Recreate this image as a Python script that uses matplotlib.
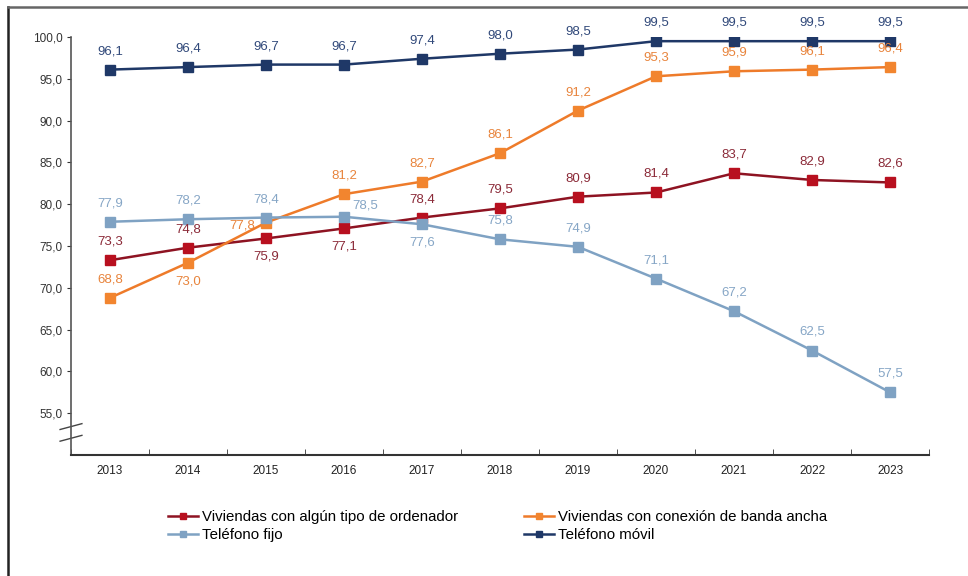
import matplotlib
matplotlib.use('Agg')
import matplotlib.pyplot as plt
from matplotlib.lines import Line2D
from matplotlib.ticker import FixedLocator, FuncFormatter

plt.rcParams['font.family'] = ['Liberation Sans', 'DejaVu Sans']

years = ['2013', '2014', '2015', '2016', '2017', '2018', '2019', '2020', '2021', '2022', '2023']
ordenador = [73.3, 74.8, 75.9, 77.1, 78.4, 79.5, 80.9, 81.4, 83.7, 82.9, 82.6]
banda_ancha = [68.8, 73.0, 77.8, 81.2, 82.7, 86.1, 91.2, 95.3, 95.9, 96.1, 96.4]
fijo = [77.9, 78.2, 78.4, 78.5, 77.6, 75.8, 74.9, 71.1, 67.2, 62.5, 57.5]
movil = [96.1, 96.4, 96.7, 96.7, 97.4, 98.0, 98.5, 99.5, 99.5, 99.5, 99.5]

labels = ['Viviendas con algún tipo de ordenador',
          'Viviendas con conexión de banda ancha',
          'Teléfono fijo',
          'Teléfono móvil']

# label placement per point: 'a' above, 'b' below, 'l' left, 'r' right-up
pos_ordenador = ['a', 'a', 'b', 'b', 'a', 'a', 'a', 'a', 'a', 'a', 'a']
pos_banda = ['a', 'b', 'l', 'a', 'a', 'a', 'a', 'a', 'a', 'a', 'a']
pos_fijo = ['a', 'a', 'a', 'r', 'b', 'a', 'a', 'a', 'a', 'a', 'a']
pos_movil = ['a'] * 11

series = [
    (ordenador, pos_ordenador, '#8E1322', '#B8101F', '#8B2A38'),
    (banda_ancha, pos_banda, '#EE7B2A', '#F2852F', '#E8843C'),
    (fijo, pos_fijo, '#7FA2C3', '#7FA2C3', '#86A6C6'),
    (movil, pos_movil, '#1F3867', '#1F3867', '#31497A'),
]

fig = plt.figure(figsize=(9.68, 5.76), dpi=100)
ax = fig.add_axes([71 / 968, 1 - 455 / 576, (929 - 71) / 968, (455 - 37) / 576])

x = list(range(len(years)))
proxies = []
for (vals, pos, lc, mc, tc), lab in zip(series, labels):
    ax.plot(x, vals, color=lc, lw=1.8, marker='s', ms=6.5,
            mfc=mc, mec=mc, zorder=3)
    proxies.append(Line2D([], [], color=lc, lw=1.8, marker='s', ms=5,
                          mfc=mc, mec=mc, label=lab))
    for xi, v, p in zip(x, vals, pos):
        txt = f'{v:.1f}'.replace('.', ',')
        if p == 'a':
            off, ha, va = (0, 9), 'center', 'bottom'
        elif p == 'b':
            off, ha, va = (0, -9), 'center', 'top'
        elif p == 'l':
            off, ha, va = (-8, -2), 'right', 'center'
        else:
            off, ha, va = (6, 4), 'left', 'bottom'
        ax.annotate(txt, (xi, v), xytext=off, textcoords='offset points',
                    ha=ha, va=va, fontsize=9.5, color=tc, zorder=4)

ax.set_xlim(-0.5, len(years) - 0.5)
ax.set_ylim(50, 100)
ax.yaxis.set_major_locator(FixedLocator([55, 60, 65, 70, 75, 80, 85, 90, 95, 100]))
ax.yaxis.set_major_formatter(FuncFormatter(lambda v, p: f'{v:.1f}'.replace('.', ',')))
ax.set_xticks(x)
ax.set_xticklabels(years)
ax.set_xticks([i + 0.5 for i in range(-1, len(years))], minor=True)
ax.tick_params(axis='x', which='major', length=0, labelsize=8.5, pad=7, colors='#222222')
ax.tick_params(axis='x', which='minor', length=4, direction='in', color='#333333')
ax.tick_params(axis='y', length=3, direction='out', labelsize=8.5, pad=3,
               colors='#333333')
for s in ['top', 'right']:
    ax.spines[s].set_visible(False)
ax.spines['left'].set_color('#555555')
ax.spines['bottom'].set_color('#333333')
ax.spines['left'].set_linewidth(1.2)
ax.spines['bottom'].set_linewidth(1.5)

# axis break marks
for yy in (53.4, 52.0):
    ax.plot([-0.5 - 0.14, -0.5 + 0.14], [yy - 0.35, yy + 0.35],
            color='#444444', lw=1, clip_on=False)

fig.legend([proxies[0], proxies[2], proxies[1], proxies[3]],
           [labels[0], labels[2], labels[1], labels[3]],
           ncol=2, loc='upper left', bbox_to_anchor=(168 / 968, 1 - 510 / 576),
           frameon=False, fontsize=10.8, handlelength=2.0, handletextpad=0.25,
           columnspacing=4.4, labelspacing=0.25, borderaxespad=0, borderpad=0)

# outer frame (left and top)
fig.add_artist(Line2D([8 / 968, 8 / 968], [0, 1 - 7 / 576], color='#222222', lw=1.8))
fig.add_artist(Line2D([8 / 968, 1], [1 - 7 / 576, 1 - 7 / 576], color='#666666', lw=1.8))

fig.savefig('out.png', dpi=100)
